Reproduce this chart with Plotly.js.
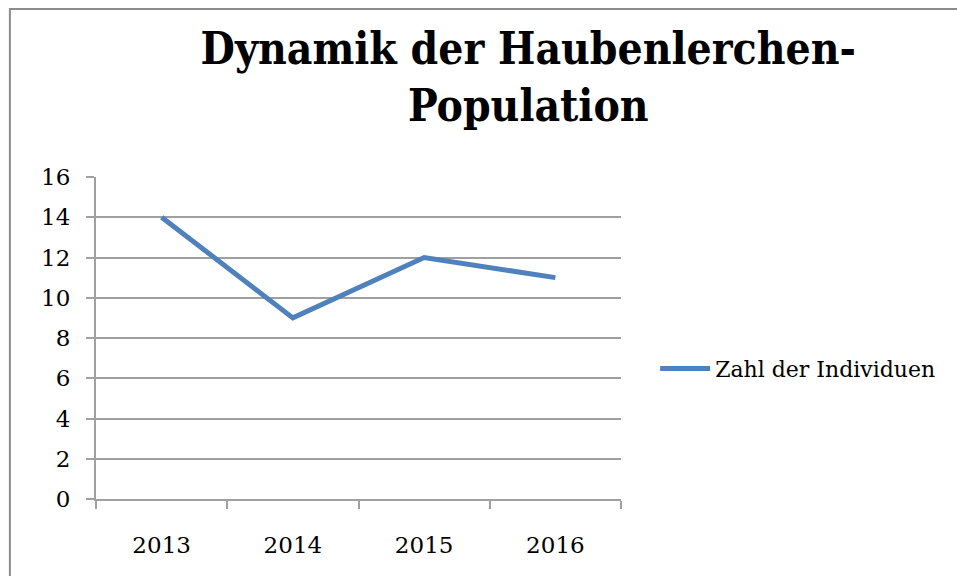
<!DOCTYPE html>
<html>
<head>
<meta charset="utf-8">
<script src="https://cdn.plot.ly/plotly-3.0.1.min.js"></script>
<style>html,body{margin:0;padding:0;background:#fff;}#chart{width:957px;height:576px;}</style>
</head>
<body>
<div id="chart"></div>
<script>
const years = ["2013", "2014", "2015", "2016"];
const individuals = [14, 9, 12, 11];
const seriesName = "Zahl der Individuen";
const chartTitle = "Dynamik der Haubenlerchen-<br>Population";
const yTicks = [0, 2, 4, 6, 8, 10, 12, 14, 16];

const serif = "DejaVu Serif, Liberation Serif, serif";

const trace = {
  type: "scatter",
  mode: "lines",
  x: years,
  y: individuals,
  name: seriesName,
  line: {color: "#4F81BD", width: 5},
  showlegend: true
};

const layout = {
  width: 957,
  height: 576,
  margin: {l: 96, r: 336, t: 177, b: 77},
  paper_bgcolor: "#fff",
  plot_bgcolor: "#fff",
  title: {
    text: chartTitle,
    font: {family: "DejaVu Serif Condensed, DejaVu Serif, serif", size: 44, color: "#000", weight: "bold"},
    x: 0.552, xanchor: "center",
    y: 0.889, yanchor: "middle"
  },
  xaxis: {
    type: "category",
    range: [-0.5, 3.5],
    showgrid: false,
    showline: true,
    linecolor: "#a0a0a0",
    linewidth: 2,
    ticks: "outside",
    tickson: "boundaries",
    ticklen: 8,
    tickwidth: 2,
    tickcolor: "#a0a0a0",
    tickfont: {family: serif, size: 23, color: "#000"},
    ticklabelstandoff: 24,
    zeroline: false,
    fixedrange: true
  },
  yaxis: {
    range: [0, 16],
    tickvals: yTicks,
    showgrid: true,
    gridcolor: "#a0a0a0",
    gridwidth: 2,
    showline: true,
    linecolor: "#a0a0a0",
    linewidth: 2,
    ticks: "outside",
    ticklen: 8,
    tickwidth: 2,
    tickcolor: "#a0a0a0",
    tickfont: {family: serif, size: 23, color: "#000"},
    ticklabelstandoff: 11,
    zeroline: false,
    fixedrange: true
  },
  legend: {
    x: 1.065, xanchor: "left",
    y: 0.405, yanchor: "middle",
    font: {family: serif, size: 22, color: "#000"},
    bgcolor: "rgba(0,0,0,0)",
    itemwidth: 50
  },
  shapes: [{
    type: "rect",
    xref: "paper", yref: "paper",
    x0: -0.164, x1: 2.5,
    y0: -1, y1: 1.522,
    line: {color: "#8c8c8c", width: 2},
    layer: "below"
  }]
};

Plotly.newPlot("chart", [trace], layout, {displayModeBar: false, staticPlot: true});
</script>
</body>
</html>
